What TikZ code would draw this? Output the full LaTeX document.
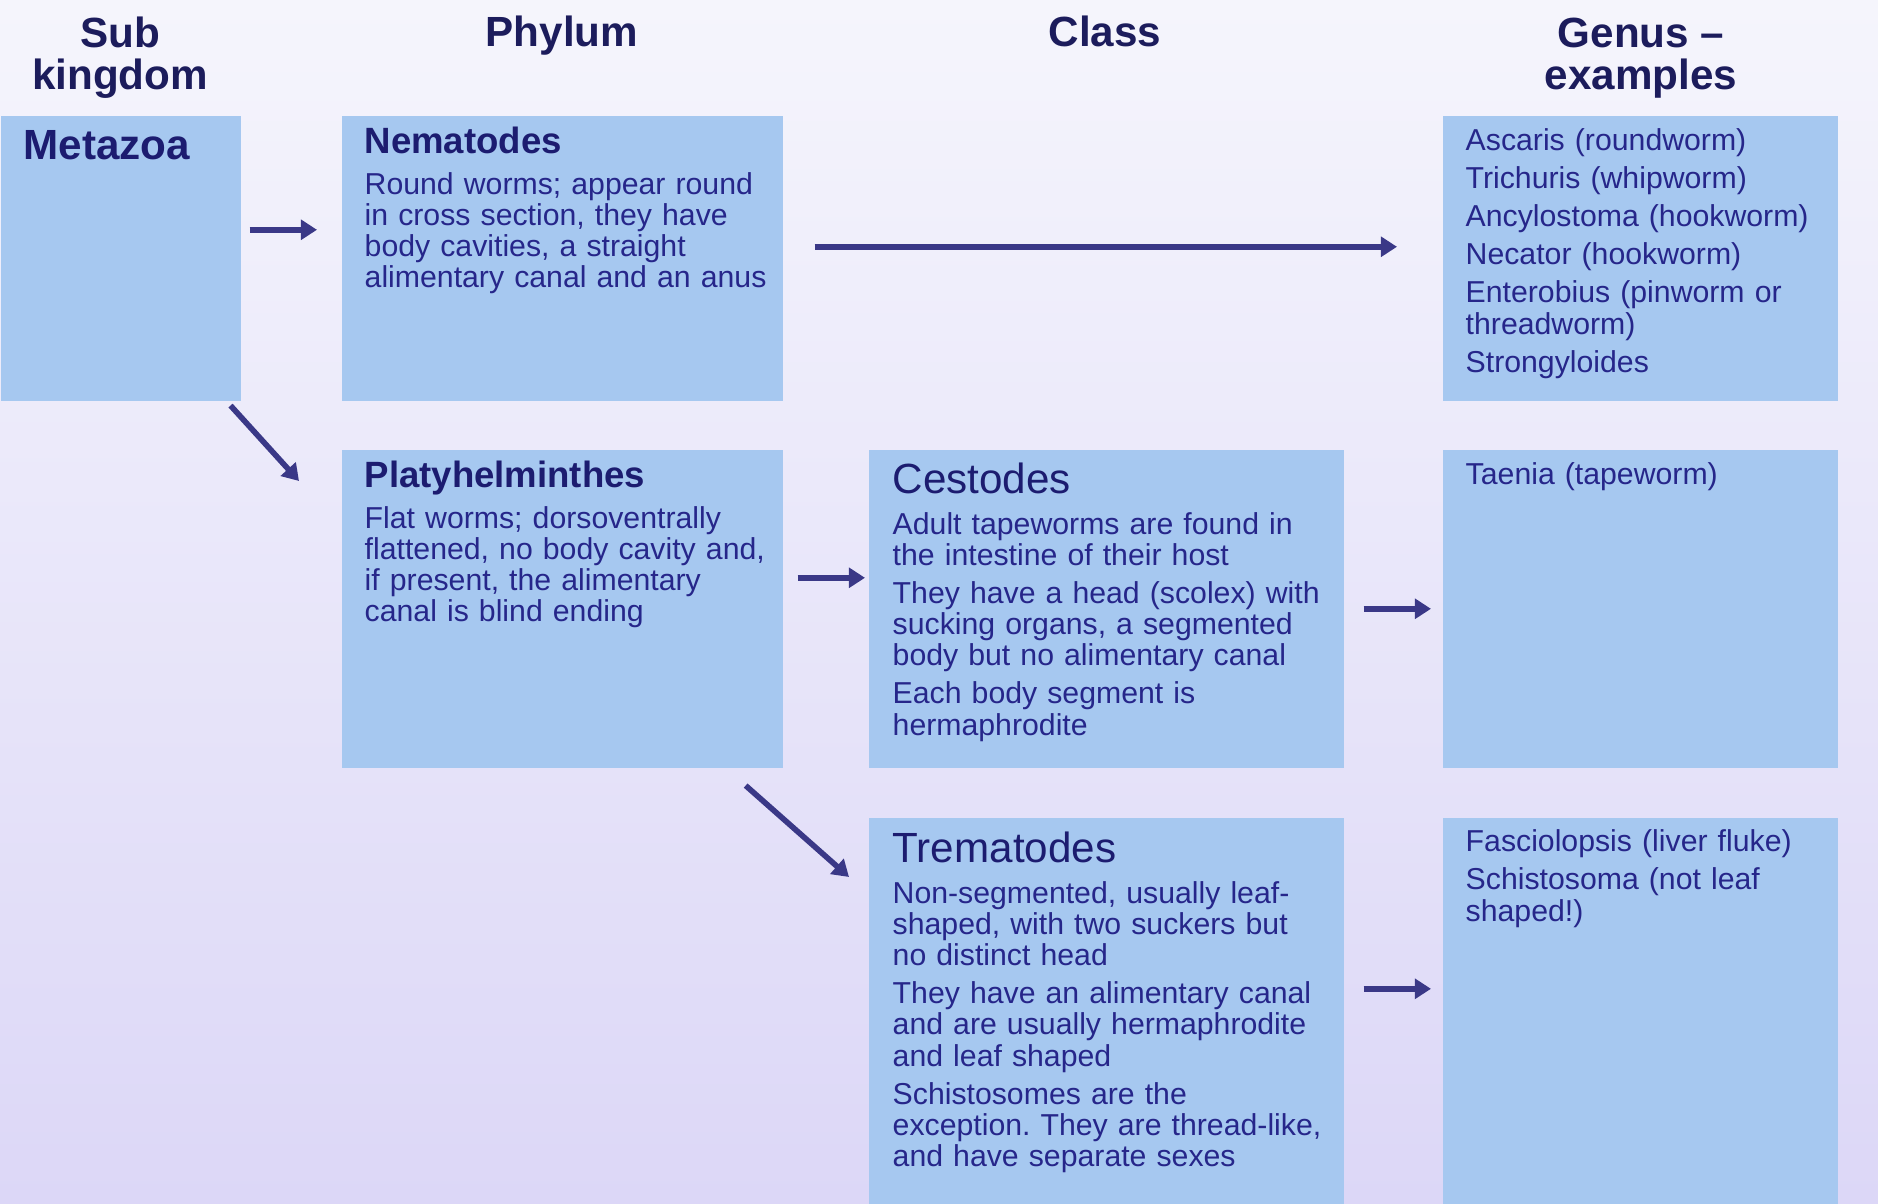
\documentclass[tikz,border=0pt]{standalone}
\usepackage{fontspec}
\setmainfont{Liberation Sans}
\usepackage{tikz}
\usetikzlibrary{arrows.meta, positioning, calc}
\frenchspacing
\definecolor{cellblue}{RGB}{166,200,240}
\definecolor{bgtop}{RGB}{245,245,252}
\definecolor{bgbot}{RGB}{220,215,247}
\definecolor{headnavy}{RGB}{28,28,92}
\definecolor{titlenavy}{RGB}{28,28,112}
\definecolor{textnavy}{RGB}{38,38,138}
\definecolor{arrownavy}{RGB}{58,56,135}
\newcommand{\ttl}[1]{{\color{titlenavy}\bfseries\fontsize{10.4}{8.9}\selectfont #1}}
\newcommand{\cls}[1]{{\color{titlenavy}\fontsize{12}{8.9}\selectfont #1}}

\begin{document}
\begin{tikzpicture}[x=0.01cm, y=-0.01cm,
          cell/.style={rectangle, fill=cellblue, inner sep=0pt, anchor=north west},
          head/.style={anchor=base, align=center, text=headnavy, font=\bfseries\fontsize{12}{12.2}\selectfont},
          body/.style={anchor=base west, inner sep=0pt, text width=4.5cm, align=left, text=textnavy, font=\fontsize{8.6}{8.9}\selectfont},
          flow/.style={-{Triangle[length=4.6pt, width=5.6pt]}, line width=1.6pt, draw=arrownavy}
        ]
          \shade[top color=bgtop, bottom color=bgbot] (0,0) rectangle (1878,1204);
          \useasboundingbox (0,0) rectangle (1878,1204);

          \node[head] (hsub) at (120,90) {Sub\\kingdom};
          \node[head] (hphy) at (562,47) {Phylum};
          \node[head] (hcls) at (1105,47) {Class};
          \node[head] (hgen) at (1641,90) {Genus –\\examples};

          \node[cell, minimum width=2.4cm, minimum height=2.85cm] (meta) at (0,115) {};
          \node[cell, minimum width=4.41cm, minimum height=2.85cm] (nema) at (341,115) {};
          \node[cell, minimum width=3.95cm, minimum height=2.85cm] (gen1) at (1442,115) {};
          \node[cell, minimum width=4.41cm, minimum height=3.18cm] (plat) at (341,449) {};
          \node[cell, minimum width=4.75cm, minimum height=3.18cm] (cest) at (868,449) {};
          \node[cell, minimum width=3.95cm, minimum height=3.18cm] (gen2) at (1442,449) {};
          \node[cell, minimum width=4.75cm, minimum height=3.87cm] (trem) at (868,817) {};
          \node[cell, minimum width=3.95cm, minimum height=3.87cm] (gen3) at (1442,817) {};

          \node[body, text=titlenavy, font=\bfseries\fontsize{12}{12}\selectfont] (metatxt) at ($(meta.north west)+(23,45)$) {Metazoa};
          \node[body] (nematxt) at ($(nema.north west)+(23,39)$) {\ttl{Nematodes}\\[2.5pt]
            Round worms; appear round\\in cross section, they have\\body cavities, a straight\\alimentary canal and an anus};
          \node[body] (plattxt) at ($(plat.north west)+(23,39)$) {\ttl{Platyhelminthes}\\[2.5pt]
            Flat worms; dorsoventrally\\flattened, no body cavity and,\\if present, the alimentary\\canal is blind ending};
          \node[body] (cesttxt) at ($(cest.north west)+(24,45)$) {\cls{Cestodes}\\[2.5pt]
            Adult tapeworms are found in\\the intestine of their host\\[1.9pt]
            They have a head (scolex) with\\sucking organs, a segmented\\body but no alimentary canal\\[1.9pt]
            Each body segment is\\hermaphrodite};
          \node[body] (tremtxt) at ($(trem.north west)+(24,46)$) {\cls{Trematodes}\\[2.5pt]
            Non-segmented, usually leaf-\\shaped, with two suckers but\\no distinct head\\[1.9pt]
            They have an alimentary canal\\and are usually hermaphrodite\\and leaf shaped\\[1.9pt]
            Schistosomes are the\\exception. They are thread-like,\\and have separate sexes};
          \node[body] (gen1txt) at ($(gen1.north west)+(23,36)$) {Ascaris (roundworm)\\[1.9pt]
            Trichuris (whipworm)\\[1.9pt]Ancylostoma (hookworm)\\[1.9pt]Necator (hookworm)\\[1.9pt]
            Enterobius (pinworm or\\threadworm)\\[1.9pt]Strongyloides};
          \node[body] (gen2txt) at ($(gen2.north west)+(23,36)$) {Taenia (tapeworm)};
          \node[body] (gen3txt) at ($(gen3.north west)+(23,35)$) {Fasciolopsis (liver fluke)\\[1.9pt]
            Schistosoma (not leaf\\shaped!)};

          \draw[flow] ($(meta.east)+(8,-28.5)$) -- ($(nema.west)+(-24,-28.5)$);
          \draw[flow] ($(meta.south east)+(-11,4)$) -- ($(plat.north west)+(-42,32)$);
          \draw[flow] ($(nema.east)+(31,-11.5)$) -- ($(gen1.west)+(-45,-11.5)$);
          \draw[flow] ($(plat.east)+(14,-31)$) -- ($(cest.west)+(-3,-31)$);
          \draw[flow] ($(plat.south east)+(-38,17)$) -- ($(trem.north west)+(-19,60)$);
          \draw[flow] ($(cest.east)+(19,0)$) -- ($(gen2.west)+(-11,0)$);
          \draw[flow] ($(trem.east)+(19,-22.5)$) -- ($(gen3.west)+(-11,-22.5)$);
        \end{tikzpicture}
\end{document}
